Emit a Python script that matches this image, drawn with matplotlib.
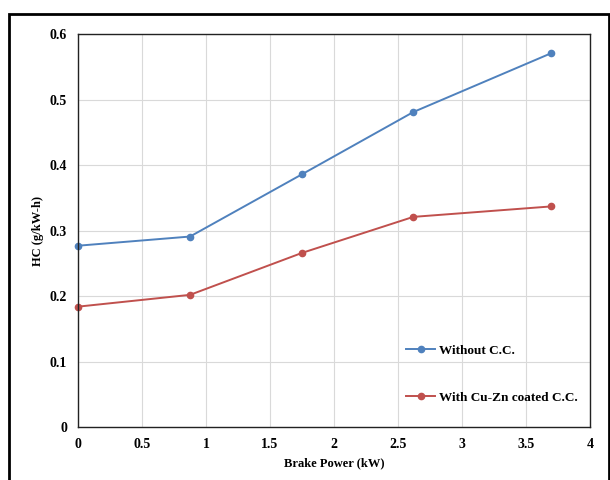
import matplotlib.pyplot as plt
from matplotlib.patches import Rectangle

brake_power = [0, 0.875, 1.75, 2.62, 3.7]
hc_without = [0.277, 0.291, 0.386, 0.481, 0.571]
hc_coated = [0.184, 0.202, 0.266, 0.321, 0.337]

plt.rcParams['font.family'] = ['Liberation Serif', 'DejaVu Serif']
plt.rcParams['font.weight'] = 'bold'

fig = plt.figure(figsize=(6.1, 4.8), dpi=100)
ax = fig.add_axes([0.128, 0.110, 0.839, 0.819])

ax.plot(brake_power, hc_without, color="#4f81bd", marker="o", markersize=4.5,
        linewidth=1.4, label="Without C.C.", clip_on=False)
ax.plot(brake_power, hc_coated, color="#c0504d", marker="o", markersize=4.5,
        linewidth=1.4, label="With Cu-Zn coated C.C.", clip_on=False)

ax.set_xlim(0, 4)
ax.set_ylim(0, 0.6)
ax.set_xticks([0, 0.5, 1, 1.5, 2, 2.5, 3, 3.5, 4])
ax.set_xticklabels(["0", "0.5", "1", "1.5", "2", "2.5", "3", "3.5", "4"])
ax.set_yticks([0, 0.1, 0.2, 0.3, 0.4, 0.5, 0.6])
ax.set_yticklabels(["0", "0.1", "0.2", "0.3", "0.4", "0.5", "0.6"])
ax.tick_params(length=0, labelsize=10, pad=8)
for lbl in ax.get_xticklabels() + ax.get_yticklabels():
    lbl.set_fontweight("bold")
ax.grid(True, color="#d9d9d9", linewidth=0.8)
ax.set_axisbelow(True)
for s in ax.spines.values():
    s.set_color("#222222")
    s.set_linewidth(1.0)

ax.set_xlabel("Brake Power (kW)", fontsize=9, fontweight="bold", labelpad=4)
ax.set_ylabel("HC (g/kW-h)", fontsize=9, fontweight="bold", labelpad=4)

ax.legend(loc="lower right", bbox_to_anchor=(1.0, 0.03), frameon=False,
          labelspacing=2.6, handlelength=2.2, handletextpad=0.3,
          prop={"weight": "bold", "size": 9.5})

fig.patches.append(Rectangle((9 / 610, -0.05), 600 / 610, 1.05 - 14 / 480,
                             transform=fig.transFigure, fill=False,
                             edgecolor="black", linewidth=2))

fig.savefig("out.png", dpi=100)
